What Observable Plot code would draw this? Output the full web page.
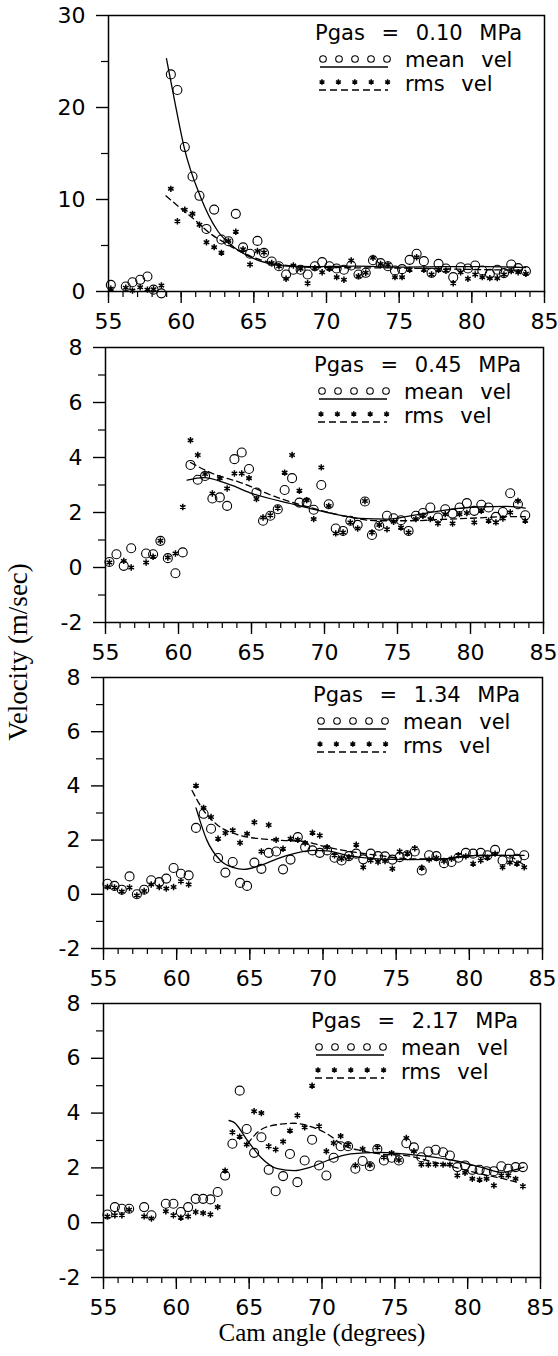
<!DOCTYPE html>
<html><head><meta charset="utf-8">
<script src="https://cdn.jsdelivr.net/npm/d3@7"></script>
<script src="https://cdn.jsdelivr.net/npm/@observablehq/plot@0.6"></script>
<style>
body{margin:0;background:#fff;}
#wrap{position:relative;width:558px;height:1356px;overflow:hidden;background:#fff;}
#wrap svg{position:absolute;left:0;}
#ylab{position:absolute;left:18px;top:652px;transform:translate(-50%,-50%) rotate(-90deg);font-family:"Liberation Serif",serif;font-size:27px;white-space:nowrap;color:#000;}
</style></head><body><div id="wrap"><div id="ylab">Velocity (m/sec)</div></div>
<script>
// ---------- data ----------
const pgasLabels = ["0.10", "0.45", "1.34", "2.17"];
const xMajorTicks = [55, 60, 65, 70, 75, 80, 85];
const xMinorTicks = [55,56,57,58,59,60,61,62,63,64,65,66,67,68,69,70,71,72,73,74,75,76,77,78,79,80,81,82,83,84,85];
const yMajorTicks1 = [0, 10, 20, 30];
const yMinorTicks1 = [5, 15, 25];
const yMajorTicks = [-2, 0, 2, 4, 6, 8];
const yMinorTicks = [-1, 1, 3, 5, 7];

// Panel 1: Pgas = 0.10 MPa
const angle1 = [55.16,56.19,56.65,57.18,57.68,58.1,58.64,59.29,59.74,60.25,60.78,61.26,61.74,62.27,62.77,63.25,63.76,64.26,64.74,65.25,65.7,66.23,66.73,67.22,67.72,68.22,68.7,69.2,69.7,70.2,70.7,71.2,71.7,72.2,72.7,73.2,73.72,74.23,74.71,75.2,75.72,76.2,76.7,77.23,77.71,78.22,78.72,79.23,79.73,80.23,80.72,81.24,81.75,82.21,82.71,83.19,83.72];
const mean1 = [0.72,0.54,1.0,1.27,1.63,0.2,-0.2,23.6,21.9,15.7,12.5,10.4,6.8,8.9,5.65,5.47,8.44,4.8,4.1,5.5,4.2,3.26,2.75,1.85,2.36,2.36,1.85,2.75,3.19,2.75,2.5,2.36,2.83,1.85,2.03,3.4,3.08,2.75,2.28,2.43,3.44,4.1,3.3,2.03,3.0,2.5,1.56,2.64,2.5,2.83,2.28,1.92,2.36,2.0,2.93,2.54,2.21];
const rms1 = [0.3,0.4,0.1,0.47,0.2,0.25,0.65,11.16,7.64,8.88,8.44,7.25,5.36,4.82,4.2,5.5,6.5,4.6,2.93,4.4,4.24,3.1,2.75,1.38,2.83,2.46,0.9,2.54,2.1,2.46,1.56,1.27,3.37,1.67,2.03,3.66,3.0,2.9,1.56,1.56,2.36,3.73,2.36,1.85,2.36,2.28,0.9,2.1,1.38,1.85,1.56,1.45,1.45,1.85,2.21,2.1,1.92];
const meanFitX1 = [58.99,59.6,60.2,61.34,62.49,63.63,64.78,65.93,67.3,69,72,75,78,81,83.7];
const meanFitY1 = [25.3,20.3,15.7,10.25,6.63,4.82,3.73,3.08,2.75,2.7,2.75,2.65,2.7,2.7,2.6];
const rmsFitX1 = [58.95,60,61,62,63,64,65,66,67,68,70,75,80,83.7];
const rmsFitY1 = [10.4,9.0,7.7,6.3,5.3,4.4,3.7,3.2,2.9,2.7,2.6,2.55,2.4,2.3];

// Panel 2: Pgas = 0.45 MPa
const angle2 = [55.27,55.75,56.25,56.76,57.78,58.26,58.76,59.27,59.79,60.29,60.82,61.32,61.82,62.32,62.83,63.33,63.83,64.33,64.83,65.34,65.79,66.29,66.8,67.27,67.78,68.28,68.78,69.26,69.78,70.29,70.77,71.27,71.77,72.27,72.77,73.25,73.75,74.28,74.73,75.24,75.76,76.26,76.74,77.25,77.77,78.27,78.77,79.25,79.75,80.26,80.74,81.24,81.74,82.22,82.72,83.25,83.75];
const mean2 = [0.2,0.48,0.06,0.7,0.51,0.48,0.97,0.34,-0.21,0.55,3.73,3.19,3.33,2.51,2.55,2.24,3.94,4.18,3.58,2.73,1.7,1.88,2.12,2.82,3.25,2.36,2.36,2.1,3.0,2.3,1.42,1.33,1.7,1.55,2.4,1.18,1.52,1.88,1.79,1.72,1.33,1.88,1.98,2.18,1.82,2.12,1.96,2.18,2.34,2.06,2.28,2.18,1.84,2.02,2.7,2.3,1.9];
const rms2 = [0.18,null,0.24,0.0,0.18,0.39,0.97,0.36,0.51,2.2,4.63,4.09,3.4,2.69,3.25,2.87,3.42,3.42,3.25,2.49,1.82,1.9,2.16,3.45,4.09,2.79,2.45,1.76,3.64,2.24,1.24,1.27,1.64,1.42,2.42,1.27,1.55,1.39,1.66,1.45,1.27,1.76,1.88,1.76,1.6,1.94,1.6,1.94,1.98,1.64,2.06,1.7,1.64,1.78,2.0,2.42,1.7];
const meanFitX2 = [60.59,61.73,63.33,65.15,67.9,70.2,72.45,74.28,75.88,78.16,80.44,82.5,83.75];
const meanFitY2 = [3.18,3.27,3.05,2.67,2.3,2.0,1.79,1.76,1.88,2.08,2.2,2.22,2.16];
const rmsFitX2 = [60.82,62.19,64.24,66.75,69.03,71.3,73.6,75.88,78.16,80.44,82.5,83.75];
const rmsFitY2 = [3.82,3.45,3.09,2.55,2.18,1.88,1.7,1.7,1.75,1.8,1.85,1.85];

// Panel 3: Pgas = 1.34 MPa
const angle3 = [55.27,55.75,56.25,56.78,57.28,57.78,58.26,58.81,59.29,59.79,60.29,60.82,61.32,61.84,62.35,62.83,63.33,63.83,64.33,64.81,65.31,65.79,66.29,66.8,67.27,67.78,68.28,68.78,69.28,69.78,70.28,70.79,71.27,71.77,72.27,72.75,73.26,73.76,74.24,74.74,75.24,75.76,76.27,76.75,77.25,77.75,78.27,78.78,79.25,79.76,80.26,80.78,81.24,81.76,82.27,82.77,83.25,83.75];
const mean3 = [0.39,0.31,0.17,0.66,0.0,0.17,0.52,0.45,0.58,0.97,0.76,0.7,2.45,2.97,2.42,1.34,0.8,1.19,0.42,0.31,1.17,0.94,1.53,1.58,0.92,1.28,2.11,1.74,1.62,1.53,1.62,1.35,1.25,1.41,1.5,1.29,1.5,1.41,1.4,1.28,1.37,1.44,1.58,0.88,1.44,1.41,1.15,1.19,1.35,1.53,1.5,1.53,1.44,1.64,1.25,1.5,1.31,1.44];
const rms3 = [0.27,0.25,0.1,0.25,-0.04,0.12,0.36,0.27,0.21,0.27,0.48,0.36,4.01,3.19,2.85,2.05,2.26,2.36,1.9,2.23,2.66,1.58,2.56,2.01,1.68,2.05,2.01,1.89,2.27,2.17,1.74,1.44,1.31,1.37,1.83,1.0,1.25,1.19,1.23,0.94,1.58,1.5,1.7,0.98,1.28,1.34,1.23,1.31,1.44,1.4,1.13,1.25,1.35,1.5,1.0,1.17,1.13,1.0];
const meanFitX3 = [61.32,62.07,62.99,63.9,64.58,65.72,66.86,68.0,69.37,70.29,71.66,73.71,75.99,78.27,80.55,83.75];
const meanFitY3 = [3.19,1.99,1.25,0.98,0.92,1.07,1.31,1.5,1.62,1.6,1.44,1.31,1.28,1.31,1.44,1.44];
const rmsFitX3 = [61.05,61.84,62.74,64.35,65.72,67.2,68.69,70.29,72.1,73.71,75.99,78.27,80.55,82.38,83.75];
const rmsFitY3 = [3.83,3.09,2.58,2.17,2.05,1.99,1.95,1.74,1.56,1.44,1.31,1.31,1.44,1.44,1.07];

// Panel 4: Pgas = 2.17 MPa
const angle4 = [55.27,55.78,56.26,56.76,57.79,58.29,59.28,59.8,60.31,60.81,61.33,61.84,62.34,62.84,63.35,63.85,64.35,64.83,65.34,65.84,66.34,66.82,67.33,67.8,68.31,68.81,69.32,69.8,70.3,70.8,71.28,71.79,72.29,72.79,73.29,73.8,74.25,74.78,75.28,75.79,76.31,76.82,77.3,77.8,78.31,78.78,79.29,79.82,80.32,80.82,81.3,81.8,82.31,82.79,83.29,83.79];
const mean4 = [0.3,0.57,0.51,0.51,0.57,0.27,0.69,0.69,0.39,0.57,0.87,0.87,0.85,1.12,1.72,2.88,4.82,3.42,2.55,3.12,1.93,1.15,1.7,2.51,1.48,2.27,3.03,2.09,1.72,2.37,2.79,2.79,1.97,2.25,2.06,2.69,2.27,2.37,2.27,2.9,2.75,2.39,2.6,2.66,2.57,2.45,2.03,2.09,1.93,1.93,1.88,1.88,2.06,1.97,2.03,2.03];
const rms4 = [0.23,0.27,0.27,0.47,0.23,0.15,0.42,0.27,0.18,0.23,0.39,0.35,0.3,0.57,1.9,3.3,3.14,2.85,4.07,4.0,2.79,2.67,2.96,3.36,3.91,3.48,5.0,3.52,2.61,2.91,3.16,2.85,2.09,2.69,2.11,2.75,2.39,2.54,2.29,3.09,2.61,2.12,2.12,2.12,2.12,2.12,1.72,1.82,1.6,1.57,1.6,1.36,1.72,1.72,1.6,1.33];
const meanFitX4 = [63.62,63.96,64.88,65.79,66.94,68.08,69.22,70.37,71.97,73.8,75.63,77.23,79.06,80.89,82.26,83.86];
const meanFitY4 = [3.73,3.66,3.0,2.39,1.97,1.9,2.03,2.27,2.51,2.57,2.51,2.42,2.27,2.03,1.84,2.03];
const rmsFitX4 = [64.88,65.8,66.94,68.08,69.22,70.37,71.5,72.65,74.0,75.8,77.23,79.06,80.89,82.5,83.6];
const rmsFitY4 = [2.88,3.39,3.58,3.63,3.51,3.24,2.82,2.63,2.51,2.45,2.27,2.03,1.78,1.6,1.44];

const xAxisTitle = "Cam angle (degrees)";

// ---------- layout ----------
const FONT = "'DejaVu Sans', sans-serif";
const fmt = d => (d < 0 ? "-" + Math.abs(d) : String(d));
const panels = [
  {pgas: pgasLabels[0], yd: [0, 30], yMaj: yMajorTicks1, yMin: yMinorTicks1, angle: angle1, mean: mean1, rms: rms1, mfx: meanFitX1, mfy: meanFitY1, rfx: rmsFitX1, rfy: rmsFitY1, top: 0, mt: 15, h: 276, mb: 56, ml: 108, mr: 14},
  {pgas: pgasLabels[1], yd: [-2, 8], yMaj: yMajorTicks, yMin: yMinorTicks, angle: angle2, mean: mean2, rms: rms2, mfx: meanFitX2, mfy: meanFitY2, rfx: rmsFitX2, rfy: rmsFitY2, top: 331, mt: 16, h: 275, mb: 56, ml: 105, mr: 15},
  {pgas: pgasLabels[2], yd: [-2, 8], yMaj: yMajorTicks, yMin: yMinorTicks, angle: angle3, mean: mean3, rms: rms3, mfx: meanFitX3, mfy: meanFitY3, rfx: rmsFitX3, rfy: rmsFitY3, top: 662, mt: 15, h: 271, mb: 56, ml: 103, mr: 16},
  {pgas: pgasLabels[3], yd: [-2, 8], yMaj: yMajorTicks, yMin: yMinorTicks, angle: angle4, mean: mean4, rms: rms4, mfx: meanFitX4, mfy: meanFitY4, rfx: rmsFitX4, rfy: rmsFitY4, top: 988, mt: 15, h: 274, mb: 79, ml: 103, mr: 18, xTitle: true}
];

const wrap = document.getElementById("wrap");
panels.forEach(p => {
  const pts = p.angle.map((a, i) => ({a, m: p.mean[i], r: p.rms[i]}));
  const mFit = p.mfx.map((a, i) => ({a, v: p.mfy[i]}));
  const rFit = p.rfx.map((a, i) => ({a, v: p.rfy[i]}));
  const marks = [
    Plot.frame({stroke: "#000", strokeWidth: 1.5}),
    Plot.axisX(xMajorTicks, {tickSize: 12, tickPadding: 10, fontSize: 22, strokeWidth: 1.4, label: null, tickFormat: fmt}),
    Plot.axisX(xMinorTicks, {tickSize: 6, fill: "none", strokeWidth: 1.2, label: null}),
    Plot.axisY(p.yMaj, {tickSize: 12, tickPadding: 11, fontSize: 22, strokeWidth: 1.4, label: null, tickFormat: fmt}),
    Plot.axisY(p.yMin, {tickSize: 7, fill: "none", strokeWidth: 1.2, label: null}),
    Plot.line(mFit, {x: "a", y: "v", curve: "monotone-x", stroke: "#000", strokeWidth: 1.3}),
    Plot.line(rFit, {x: "a", y: "v", curve: "monotone-x", stroke: "#000", strokeWidth: 1.3, strokeDasharray: "6,4"}),
    Plot.dot(pts.filter(d => d.m != null), {x: "a", y: "m", r: 4.5, stroke: "#000", strokeWidth: 1.1, fill: "none"}),
    Plot.dot(pts.filter(d => d.r != null), {x: "a", y: "r", symbol: "asterisk", r: 3, stroke: "#000", strokeWidth: 1.5})
  ];
  if (p.xTitle) {
    marks.push(Plot.text([xAxisTitle], {text: d => d, frameAnchor: "bottom", dy: 63, fontFamily: "'Liberation Serif', serif", fontSize: 25, fill: "#000"}));
  }
  const plot = Plot.plot({
    width: 558,
    height: p.mt + p.h + p.mb,
    marginTop: p.mt, marginBottom: p.mb, marginLeft: p.ml, marginRight: p.mr,
    style: {background: "transparent", fontFamily: FONT, color: "#000", overflow: "visible"},
    x: {domain: [55, 85], label: null},
    y: {domain: p.yd, label: null},
    marks
  });
  plot.style.top = p.top + "px";
  // in-panel legend
  const xr = plot.scale("x").range, yr = plot.scale("y").range;
  const R = Math.max(...xr), T = Math.min(...yr);
  const g = d3.select(plot).append("g").attr("font-family", FONT).attr("font-size", 21).attr("fill", "#000");
  const lbl = (x, y, t, anchor) => g.append("text").attr("x", x).attr("y", y).attr("text-anchor", anchor)
      .attr("dy", "0.36em").style("white-space", "pre").style("word-spacing", "10px").text(t);
  lbl(R - 22, T + 17, `Pgas = ${p.pgas} MPa`, "end");
  lbl(R - 139, T + 44, "mean vel", "start");
  lbl(R - 139, T + 68, "rms vel", "start");
  for (let i = 0; i < 5; i++) {
    g.append("circle").attr("cx", R - 221 + 16 * i).attr("cy", T + 44).attr("r", 3.3)
      .attr("fill", "none").attr("stroke", "#000").attr("stroke-width", 1.1);
    g.append("path").attr("d", d3.symbol(d3.symbolAsterisk, 22)())
      .attr("transform", `translate(${R - 222 + 16.4 * i},${T + 67})`).attr("fill", "none").attr("stroke", "#000").attr("stroke-width", 1.5);
  }
  g.append("line").attr("x1", R - 224).attr("x2", R - 156).attr("y1", T + 52).attr("y2", T + 52).attr("stroke", "#000").attr("stroke-width", 1.3);
  g.append("line").attr("x1", R - 225).attr("x2", R - 156).attr("y1", T + 75).attr("y2", T + 75).attr("stroke", "#000").attr("stroke-width", 1.3).attr("stroke-dasharray", "7,4");
  wrap.appendChild(plot);
});
</script></body></html>
